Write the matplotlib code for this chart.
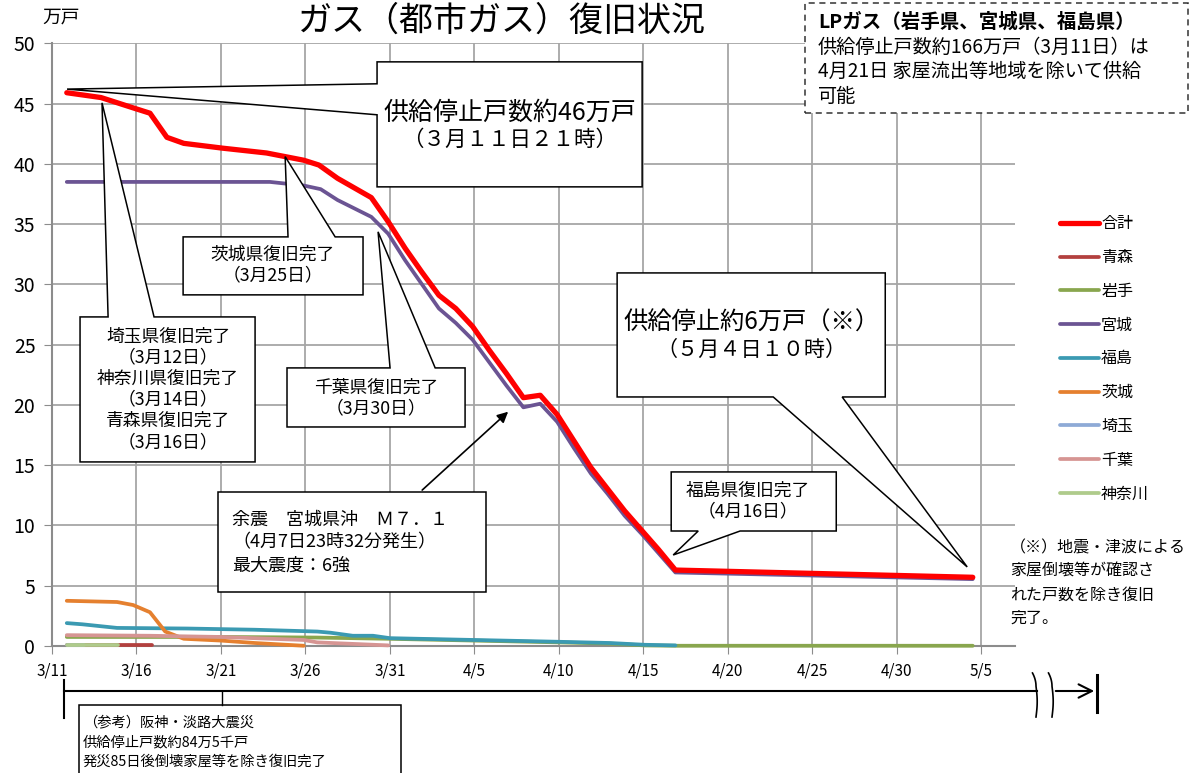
import numpy as np
import matplotlib
matplotlib.use('Agg')
import matplotlib.pyplot as plt
from matplotlib.patches import Polygon, Rectangle, FancyArrowPatch
from matplotlib.lines import Line2D

plt.rcParams['font.family'] = ['Noto Sans CJK JP', 'DejaVu Sans']

# days counted from 3/11 0:00, values in 万戸
total_x = [0.875, 2.9, 4.9, 5.8, 6.8, 7.8, 10.1, 12.7, 13.8, 14.9, 15.8, 16.9, 18.9, 19.9,
           20.9, 21.9, 22.9, 23.9, 24.9, 25.9, 26.9, 27.9, 28.9, 29.9, 30.9, 31.9, 32.9,
           33.9, 34.9, 35.9, 36.9, 54.5]
total_y = [45.9, 45.5, 44.6, 44.2, 42.2, 41.7, 41.3, 40.9, 40.6, 40.3, 39.9, 38.8, 37.2, 35.2,
           33.0, 31.0, 29.1, 28.0, 26.5, 24.5, 22.6, 20.6, 20.8, 19.2, 17.0, 14.8, 13.0,
           11.2, 9.6, 8.0, 6.3, 5.7]

miyagi_x = [0.875, 12.9, 14.9, 15.9, 16.9, 18.9, 19.9, 20.9, 21.9, 22.9, 23.9, 24.9, 25.9,
            26.9, 27.9, 28.9, 29.9, 30.9, 31.9, 32.9, 33.9, 34.9, 35.9, 36.9, 54.5]
miyagi_y = [38.5, 38.5, 38.2, 37.9, 37.0, 35.6, 34.2, 32.0, 30.0, 28.0, 26.8, 25.4, 23.5,
            21.6, 19.8, 20.1, 18.6, 16.4, 14.3, 12.6, 10.8, 9.3, 7.7, 6.1, 5.55]

aomori_x = [0.875, 5.9]
aomori_y = [0.12, 0.12]

iwate_x = [0.875, 10.0, 15.7, 19.9, 25.0, 30.0, 33.0, 35.1, 36.9, 54.5]
iwate_y = [0.75, 0.75, 0.7, 0.6, 0.45, 0.3, 0.2, 0.05, 0.02, 0.02]

fukushima_x = [0.875, 1.8, 3.85, 8.0, 12.0, 15.7, 16.5, 17.8, 19.0, 20.0, 25.0, 30.0, 33.0, 35.1, 36.9]
fukushima_y = [1.9, 1.8, 1.5, 1.45, 1.35, 1.2, 1.1, 0.85, 0.85, 0.65, 0.5, 0.35, 0.25, 0.1, 0.05]

ibaraki_x = [0.875, 3.85, 4.8, 5.8, 6.7, 7.8, 10.0, 12.0, 14.9]
ibaraki_y = [3.75, 3.65, 3.4, 2.8, 1.2, 0.6, 0.45, 0.25, 0.02]

saitama_x = [0.875, 1.9]
saitama_y = [0.05, 0.05]

chiba_x = [0.875, 5.8, 10.0, 14.9, 15.7, 19.9]
chiba_y = [0.9, 0.85, 0.75, 0.5, 0.3, 0.05]

kanagawa_x = [0.875, 3.9]
kanagawa_y = [0.12, 0.12]

names = ['合計', '青森', '岩手', '宮城', '福島', '茨城', '埼玉', '千葉', '神奈川']
colors = ['#FF0000', '#B3403E', '#89A64E', '#6B5493', '#3B9AB2', '#E5802F', '#8EAAD6', '#D69593', '#AFCB8B']
xs = [total_x, aomori_x, iwate_x, miyagi_x, fukushima_x, ibaraki_x, saitama_x, chiba_x, kanagawa_x]
ys = [total_y, aomori_y, iwate_y, miyagi_y, fukushima_y, ibaraki_y, saitama_y, chiba_y, kanagawa_y]

tick_days = list(range(0, 56, 5))
tick_labels = ['3/11', '3/16', '3/21', '3/26', '3/31', '4/5', '4/10', '4/15', '4/20', '4/25', '4/30', '5/5']

W, H = 1200, 773
fig = plt.figure(figsize=(12, 7.73), dpi=100)
ax = fig.add_axes([52 / W, 1 - 646 / H, (1015 - 52) / W, (646 - 43.3) / H])

# draw order: 合計 on top
order = [1, 2, 3, 4, 5, 6, 7, 8, 0]
handles = {}
for i in order:
    lw = 3.8 if i == 0 else 2.7
    ln, = ax.plot(xs[i], ys[i], color=colors[i], lw=lw, solid_capstyle='round',
                  solid_joinstyle='round', zorder=3 + (1 if i == 0 else 0), clip_on=False)
    handles[i] = ln

ax.set_xlim(0, 57)
ax.set_ylim(0, 50)
ax.set_xticks(tick_days)
ax.set_xticklabels(tick_labels, fontsize=11)
ax.set_yticks(range(0, 51, 5))
ax.tick_params(axis='y', labelsize=14, length=6, color='#8c8c8c', pad=6)
ax.tick_params(axis='x', length=6, color='#8c8c8c', pad=6)
ax.grid(True, color='#a6a6a6', lw=1.3)
ax.set_axisbelow(True)
for s in ['top', 'right']:
    ax.spines[s].set_visible(False)
for s in ['left', 'bottom']:
    ax.spines[s].set_color('#8c8c8c')
    ax.spines[s].set_linewidth(1.5)

leg = ax.legend([handles[i] for i in range(9)], names, loc='upper left',
                bbox_to_anchor=(1046 / W, 1 - 201 / H), bbox_transform=fig.transFigure,
                frameon=False, fontsize=11.5, handlelength=2.4, handletextpad=0.15,
                labelspacing=1.05)


def callout(x0, y0, x1, y1, side, a, b, tip):
    if side == 'left':
        pts = [(x0, y1), (x1, y1), (x1, y0), (x0, y0), (x0, a), tip, (x0, b)]
    elif side == 'top':
        pts = [(x0, y0), (x1, y0), (x1, y1), (b, y1), tip, (a, y1), (x0, y1)]
    else:
        pts = [(x0, y1), (x1, y1), (x1, y0), (b, y0), tip, (a, y0), (x0, y0)]
    ax.add_patch(Polygon(pts, closed=True, fc='white', ec='black', lw=1.1,
                         zorder=6, clip_on=False))


# 46万戸
callout(19.24, 38.09, 34.93, 48.46, 'left', 44.07, 46.64, (0.89, 46.2))
ax.text(27.1, 44.2, '供給停止戸数約46万戸', fontsize=18, ha='center', va='center', zorder=7)
ax.text(27.1, 42.0, '（３月１１日２１時）', fontsize=15.5, ha='center', va='center', zorder=7)

# 茨城
callout(7.76, 29.13, 18.41, 33.94, 'top', 13.97, 16.76, (13.8, 40.6))
ax.text(13.08, 31.6, '茨城県復旧完了\n（3月25日）', fontsize=12.8, ha='center', va='center',
        linespacing=1.2, zorder=7)

# 埼玉・神奈川・青森
callout(1.66, 15.27, 12.02, 27.3, 'top', 3.32, 6.04, (2.96, 45.06))
ax.text(6.87, 21.3, '埼玉県復旧完了\n（3月12日）\n神奈川県復旧完了\n（3月14日）\n青森県復旧完了\n（3月16日）',
        fontsize=12.8, ha='center', va='center', linespacing=1.22, zorder=7)

# 千葉
callout(13.91, 18.17, 24.45, 23.07, 'top', 20.01, 22.68, (19.3, 34.36))
ax.text(19.18, 20.55, '千葉県復旧完了\n（3月30日）', fontsize=12.8, ha='center', va='center',
        linespacing=1.2, zorder=7)

# 6万戸
callout(33.45, 20.66, 49.32, 30.95, 'bottom', 42.69, 46.77, (54.17, 6.56))
ax.text(41.4, 26.8, '供給停止約6万戸（※）', fontsize=17.5, ha='center', va='center', zorder=7)
ax.text(41.4, 24.56, '（５月４日１０時）', fontsize=15.2, ha='center', va='center', zorder=7)

# 福島
callout(36.65, 9.54, 46.42, 14.44, 'bottom', 38.25, 40.73, (36.77, 7.55))
ax.text(41.2, 12.05, '福島県復旧完了\n（4月16日）', fontsize=12.8, ha='center', va='center',
        linespacing=1.2, zorder=7)

# 余震
ax.add_patch(Rectangle((9.83, 4.48), 25.7 - 9.83, 12.78 - 4.48, fc='white', ec='black',
                       lw=1.1, zorder=6))
ax.text(10.66, 8.6, '余震　宮城県沖　Ｍ７．１\n（4月7日23時32分発生）\n最大震度：6強', fontsize=13,
        ha='left', va='center', linespacing=1.35, zorder=7)
ax.annotate('', xy=(27.12, 19.59), xytext=(21.79, 12.78),
            arrowprops=dict(arrowstyle='-|>', color='black', lw=1.2, mutation_scale=16), zorder=7)


def fx(px):
    return px / W


def fy(py):
    return 1 - py / H


fig.text(fx(502), fy(21), 'ガス（都市ガス）復旧状況', fontsize=24.5, ha='center', va='center')
fig.text(fx(61), fy(17), '万戸', fontsize=13.5, ha='center', va='center')

# LPガス box
fig.add_artist(Rectangle((fx(805), fy(113)), (1188 - 805) / W, 110 / H, transform=fig.transFigure,
                         fc='white', ec='#333333', lw=1.1, ls=(0, (4, 3)), zorder=5))
fig.text(fx(818), fy(22), 'LPガス（岩手県、宮城県、福島県）', fontsize=14, fontweight='bold',
         ha='left', va='center', zorder=6)
lp_lines = ['供給停止戸数約166万戸（3月11日）は', '4月21日 家屋流出等地域を除いて供給', '可能']
for k, t in enumerate(lp_lines):
    fig.text(fx(818), fy(47 + 24.5 * k), t, fontsize=13.8, ha='left', va='center', zorder=6)

# note
note_lines = ['（※）地震・津波による', '家屋倒壊等が確認さ', 'れた戸数を除き復旧', '完了。']
for k, t in enumerate(note_lines):
    fig.text(fx(1010), fy(548 + 23.5 * k), t, fontsize=11.5, ha='left', va='center')


# bottom timeline
def fline(px, py, **kw):
    fig.add_artist(Line2D([fx(p) for p in px], [fy(p) for p in py], transform=fig.transFigure,
                          color='black', **kw))


fline([64, 1037], [691, 691], lw=1.5)
fline([64, 64], [680, 718], lw=1.5)
fline([222, 222], [691, 705], lw=1.0)
fline([1097, 1097], [675, 712], lw=2.2)
t = np.linspace(0, 1, 60)
for x0 in [1036, 1052]:
    bend = np.where(t < 0.3, -3.5 * (1 - t / 0.3) ** 2, 1.2 * np.sin(np.pi * (t - 0.3) / 0.7))
    fline(x0 + bend, 673 + 44 * t, lw=1.2)
fig.add_artist(FancyArrowPatch((fx(1053), fy(691)), (fx(1097), fy(691)),
                               transform=fig.transFigure, arrowstyle='->',
                               mutation_scale=24, lw=1.5, color='black'))
fig.add_artist(Rectangle((fx(79), fy(790)), (401 - 79) / W, 85 / H, transform=fig.transFigure,
                         fc='white', ec='black', lw=1.1))
ref_lines = ['（参考）阪神・淡路大震災', '供給停止戸数約84万5千戸', '発災85日後倒壊家屋等を除き復旧完了']
for k, t2 in enumerate(ref_lines):
    fig.text(fx(83), fy(722 + 20 * k), t2, fontsize=10.3, ha='left', va='center')

fig.savefig('out.png', dpi=100)
